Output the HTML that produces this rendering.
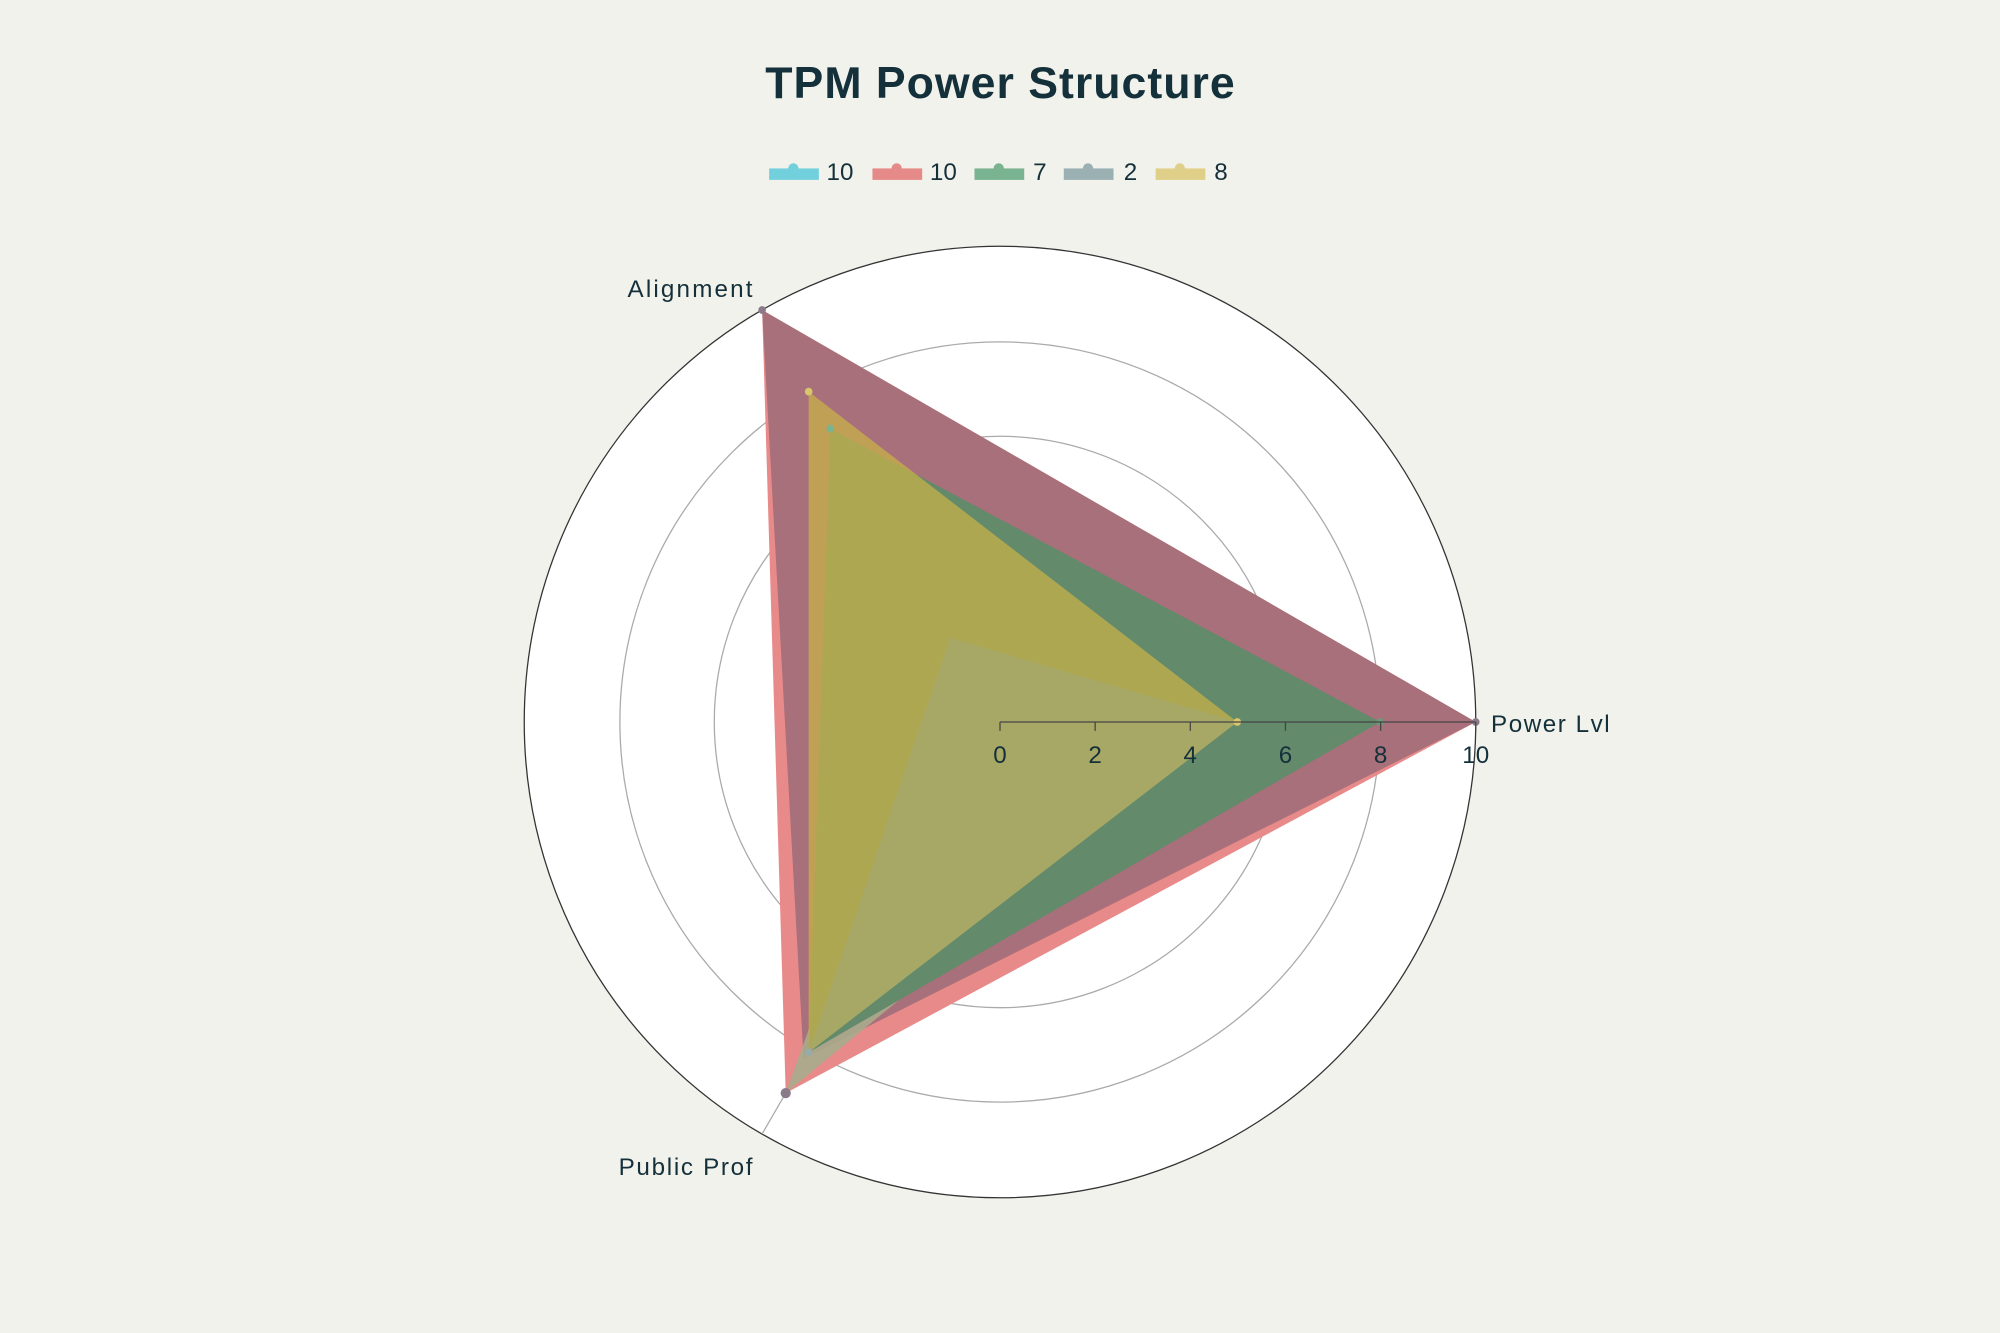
<!DOCTYPE html>
<html><head><meta charset="utf-8"><style>
html,body{margin:0;padding:0;background:#f2f2ec;}
svg{display:block;font-family:"Liberation Sans",sans-serif;}
</style></head><body>
<svg width="2000" height="1333" viewBox="0 0 1568 1045" xmlns="http://www.w3.org/2000/svg">
<rect width="1568" height="1045" fill="#f2f2ec"/>
<text x="784" y="77" text-anchor="middle" font-size="35" font-weight="bold" fill="#14303a" textLength="368">TPM Power Structure</text>
<g font-size="19" fill="#14303a">
<rect x="603" y="132" width="39" height="9" fill="#72d0dc"/><circle cx="622" cy="132" r="4" fill="#72d0dc"/><text x="648" y="141">10</text>
<rect x="684" y="132" width="39" height="9" fill="#e58a88"/><circle cx="703" cy="132" r="4" fill="#e58a88"/><text x="729" y="141">10</text>
<rect x="764" y="132" width="39" height="9" fill="#7ab38f"/><circle cx="783" cy="132" r="4" fill="#7ab38f"/><text x="810" y="141">7</text>
<rect x="834" y="132" width="39" height="9" fill="#9ab0b2"/><circle cx="853" cy="132" r="4" fill="#9ab0b2"/><text x="881" y="141">2</text>
<rect x="906" y="132" width="39" height="9" fill="#e0cf88"/><circle cx="925" cy="132" r="4" fill="#e0cf88"/><text x="952" y="141">8</text>
</g>
<circle cx="784" cy="566" r="373" fill="#fff" stroke="#333" stroke-width="1"/>
<g fill="none" stroke="#aaa" stroke-width="1">
<circle cx="784" cy="566" r="149"/><circle cx="784" cy="566" r="224"/><circle cx="784" cy="566" r="298"/>
</g>
<line x1="784" y1="566" x2="597.5" y2="243" stroke="#aaa"/>
<line x1="784" y1="566" x2="597.5" y2="889" stroke="#aaa"/>
<polygon points="1157,566 597.5,243 616,857" fill="#e88a8a"/>
<polygon points="1157,566 597.5,243 630,830" fill="#a8707a"/>
<polygon points="970,566 745,500 616,857" fill="#a7ab8c" opacity="0.9"/>
<polygon points="1082,566 651,336 634,825" fill="#628a6b"/>
<polygon points="970,566 634,307 634,825" fill="#c8b04a" opacity="0.75"/>
<polygon points="970,566 745,500 634,825" fill="#a5a96c" opacity="0.8"/>
<g fill="#8a7a8a"><circle cx="597.5" cy="243" r="3"/><circle cx="1157" cy="566" r="3"/><circle cx="616" cy="857" r="4"/><circle cx="1082" cy="566" r="3" fill="#6a9a78"/><circle cx="634" cy="307" r="3" fill="#d9c56b"/><circle cx="651" cy="336" r="3" fill="#7ab38f"/><circle cx="634" cy="825" r="3" fill="#9aa"/><circle cx="970" cy="566" r="3" fill="#d9c56b"/></g>
<line x1="784" y1="566" x2="1157" y2="566" stroke="#444"/>
<g stroke="#444"><line x1="784" y1="566" x2="784" y2="573"/><line x1="858.6" y1="566" x2="858.6" y2="573"/><line x1="933.2" y1="566" x2="933.2" y2="573"/><line x1="1007.8" y1="566" x2="1007.8" y2="573"/><line x1="1082.4" y1="566" x2="1082.4" y2="573"/><line x1="1157" y1="566" x2="1157" y2="573"/></g>
<g font-size="19" fill="#14303a" text-anchor="middle">
<text x="784" y="598">0</text><text x="858.6" y="598">2</text><text x="933.2" y="598">4</text><text x="1007.8" y="598">6</text><text x="1082.4" y="598">8</text><text x="1157" y="598">10</text>
</g>
<g font-size="19" fill="#14303a">
<text x="1169" y="574" textLength="93">Power Lvl</text>
<text x="492" y="233" textLength="98">Alignment</text>
<text x="485" y="921" textLength="105">Public Prof</text>
</g>
</svg>
</body></html>
